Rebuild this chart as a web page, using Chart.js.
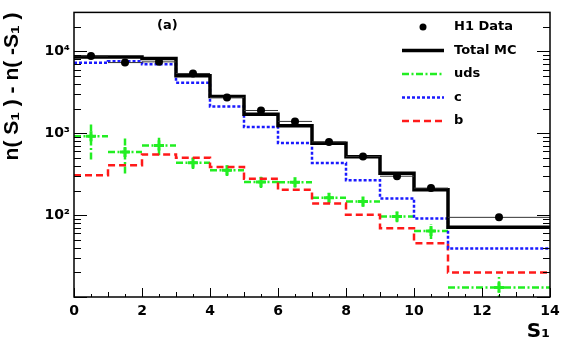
<!DOCTYPE html>
<html>
<head>
<meta charset="utf-8">
<script src="https://cdn.jsdelivr.net/npm/chart.js@4.4.1/dist/chart.umd.min.js"></script>
<style>
  html, body { margin: 0; padding: 0; background: #fff; }
  #wrap { width: 567px; height: 354px; }
</style>
</head>
<body>
<div id="wrap"><canvas id="myChart"></canvas></div>
<script>
// bins: 0-1, 1-2, ... 10-11, 11-14
const binEdges = [0, 1, 2, 3, 4, 5, 6, 7, 8, 9, 10, 11, 14];
const h1Data  = [8820, 7310, 7460, 5380, 2730, 1900, 1397, 785, 522, 299, 214, 94];
const totalMC = [8570, 8570, 8180, 5045, 2810, 1715, 1240, 757, 516, 325, 204, 71];
const cMC     = [7260, 7570, 6960, 4150, 2125, 1190, 763, 433, 267, 160, 91, 39];
const bMC     = [307, 406, 552, 502, 387, 279, 204, 139, 101, 69, 45.5, 19.9];
const udsMC   = [920, 593, 710, 437, 353, 255, 252, 163, 147, 96, 64, 13.1];
const udsErr  = [440, 270, 170, 70, 52, 40, 35, 23, 20, 14, 13, 4.5];
const xTicks = [0, 2, 4, 6, 8, 10, 12, 14];
const yTicks = [100, 1000, 10000];
const yTickLabels = ['10²', '10³', '10⁴'];

const GREEN = '#22ee22', BLUE = '#1a1aff', RED = '#ff1a1a';

function binCenters() {
  return binEdges.slice(0, -1).map((e, i) => (e + binEdges[i + 1]) / 2);
}
// histogram outline as step points
function steps(vals) {
  const pts = vals.map((v, i) => ({ x: binEdges[i], y: v }));
  pts.push({ x: binEdges[binEdges.length - 1], y: vals[vals.length - 1] });
  return pts;
}
// horizontal bars across each bin, separated by gaps
function hbars(vals) {
  const pts = [];
  vals.forEach((v, i) => {
    pts.push({ x: binEdges[i], y: v }, { x: binEdges[i + 1], y: v }, { x: binEdges[i + 1], y: null });
  });
  return pts;
}
function vbars(vals, errs) {
  const pts = [];
  const c = binCenters();
  vals.forEach((v, i) => {
    pts.push({ x: c[i], y: v - errs[i] }, { x: c[i], y: v + errs[i] }, { x: c[i], y: null });
  });
  return pts;
}
function points(vals) {
  const c = binCenters();
  return vals.map((v, i) => ({ x: c[i], y: v }));
}

const base = { type: 'line', pointRadius: 0, fill: false, tension: 0, spanGaps: false, borderCapStyle: 'butt' };

// ROOT-like frame, inward ticks, legend and label
const decor = {
  id: 'decor',
  afterDatasetsDraw(chart) {
    const { ctx, chartArea: a, scales: { x, y } } = chart;
    ctx.save();
    ctx.strokeStyle = '#000';
    ctx.lineWidth = 1;
    ctx.beginPath();
    // y ticks (left and right)
    for (let k = 1; k <= 4; k++) {
      for (let m = 1; m <= 9; m++) {
        const v = m * Math.pow(10, k);
        if (v < y.min || v > y.max) continue;
        const py = Math.round(y.getPixelForValue(v)) + 0.5;
        const len = m === 1 ? 13 : 7;
        ctx.moveTo(a.left, py); ctx.lineTo(a.left + len, py);
        ctx.moveTo(a.right, py); ctx.lineTo(a.right - len, py);
      }
    }
    // x ticks (bottom)
    for (let t = 0; t <= 14; t += 0.5) {
      const px = Math.round(x.getPixelForValue(t)) + 0.5;
      const len = t % 2 === 0 ? 9 : (t % 1 === 0 ? 5 : 3);
      ctx.moveTo(px, a.bottom); ctx.lineTo(px, a.bottom - len);
    }
    ctx.stroke();
    ctx.lineWidth = 1.5;
    ctx.strokeRect(a.left, a.top, a.right - a.left, a.bottom - a.top);

    // legend
    const rows = [27, 50.5, 74, 97.5, 121];
    const x0 = 402, x1 = 444;
    ctx.font = 'bold 13px "DejaVu Sans"';
    ctx.fillStyle = '#000';
    ctx.textBaseline = 'middle';
    ctx.textAlign = 'left';
    const items = [
      { t: 'H1 Data' },
      { t: 'Total MC', c: '#000', w: 3.5, d: [] },
      { t: 'uds', c: GREEN, w: 2.5, d: [7, 2.5, 2, 2.5] },
      { t: 'c', c: BLUE, w: 2.5, d: [3, 2] },
      { t: 'b', c: RED, w: 2.5, d: [7, 4] }
    ];
    items.forEach((it, i) => {
      const ry = rows[i];
      if (it.c) {
        ctx.beginPath();
        ctx.strokeStyle = it.c; ctx.lineWidth = it.w; ctx.setLineDash(it.d);
        ctx.moveTo(x0, ry); ctx.lineTo(x1, ry); ctx.stroke();
        ctx.setLineDash([]);
      } else {
        ctx.beginPath(); ctx.arc((x0 + x1) / 2, ry, 3.5, 0, Math.PI * 2); ctx.fill();
      }
      ctx.fillStyle = '#000';
      ctx.fillText(it.t, 454, ry);
    });
    ctx.fillText('(a)', 157, 26);
    ctx.restore();
  }
};

new Chart(document.getElementById('myChart'), {
  data: {
    datasets: [
      { type: 'scatter', data: points(h1Data), pointStyle: 'circle', pointRadius: 4, backgroundColor: '#000', borderColor: '#000', borderWidth: 0 },
      { ...base, data: hbars(h1Data), borderColor: '#333', borderWidth: 1 },
      { ...base, data: steps(totalMC), stepped: true, borderColor: '#000', borderWidth: 3.5 },
      { ...base, data: steps(cMC), stepped: true, borderColor: BLUE, borderWidth: 2.5, borderDash: [3, 2] },
      { ...base, data: steps(bMC), stepped: true, borderColor: RED, borderWidth: 2.5, borderDash: [7, 4] },
      { type: 'scatter', data: points(udsMC), pointStyle: 'cross', pointRadius: 5, borderColor: GREEN, borderWidth: 3 },
      { ...base, data: hbars(udsMC), borderColor: GREEN, borderWidth: 2.5, borderDash: [7, 2.5, 2, 2.5] },
      { ...base, data: vbars(udsMC, udsErr), borderColor: GREEN, borderWidth: 2.5, borderDash: [7, 2.5, 2, 2.5] }
    ]
  },
  options: {
    responsive: true,
    maintainAspectRatio: false,
    animation: false,
    events: [],
    layout: { padding: { top: 10, right: 17, bottom: 0, left: 0 } },
    plugins: { legend: { display: false }, tooltip: { enabled: false } },
    scales: {
      x: {
        type: 'linear', min: 0, max: 14,
        afterBuildTicks: s => { s.ticks = xTicks.map(v => ({ value: v })); },
        afterFit: s => { s.height = 57; },
        grid: { display: false, drawTicks: false },
        border: { display: false },
        ticks: { color: '#000', padding: 6, maxRotation: 0, font: { family: 'DejaVu Sans', size: 14, weight: 'bold' } },
        title: { display: true, text: 'S₁', align: 'end', color: '#000', padding: { top: 0, bottom: 10 },
          font: { family: 'DejaVu Sans', size: 20, weight: 'bold' } }
      },
      y: {
        type: 'logarithmic', min: 10, max: 30000,
        afterBuildTicks: s => { s.ticks = yTicks.map(v => ({ value: v })); },
        afterFit: s => { s.width = 74; },
        grid: { display: false, drawTicks: false },
        border: { display: false },
        ticks: { color: '#000', padding: 4, callback: (v) => yTickLabels[yTicks.indexOf(v)],
          font: { family: 'DejaVu Sans', size: 14, weight: 'bold' } },
        title: { display: true, text: 'n( S₁ ) - n( -S₁ )', align: 'end', color: '#000', padding: { top: 0, bottom: 0 },
          font: { family: 'Liberation Sans', size: 21, weight: 'bold' } }
      }
    }
  },
  plugins: [decor]
});
</script>
</body>
</html>
